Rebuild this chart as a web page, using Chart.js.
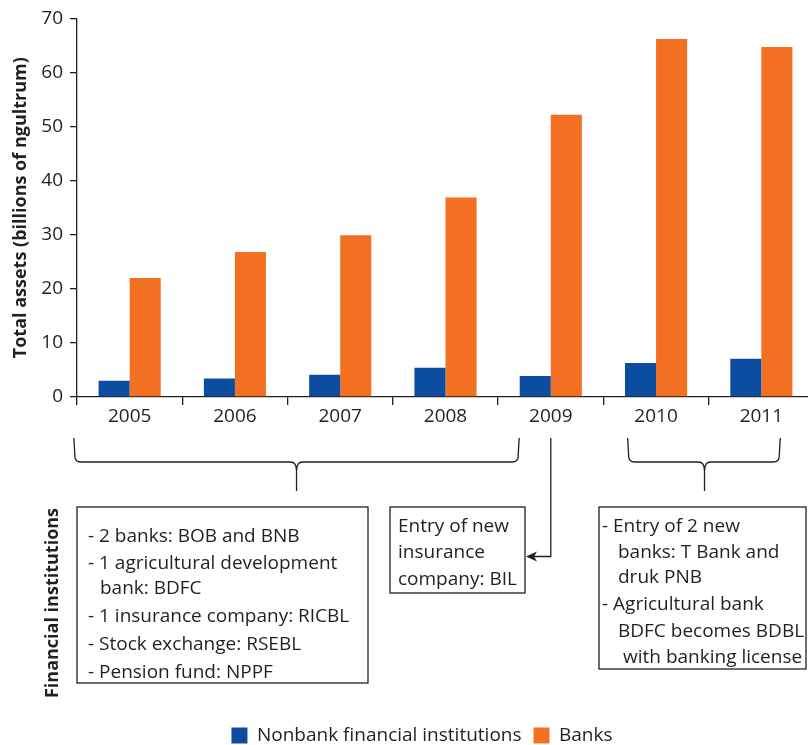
<!DOCTYPE html>
<html><head><meta charset="utf-8">
<script src="https://cdn.jsdelivr.net/npm/chart.js@4.4.1/dist/chart.umd.min.js"></script>
<style>
html,body{margin:0;padding:0;overflow:hidden;background:#fff;width:808px;height:745px}
#wrap{position:absolute;left:0;top:0;width:816px;height:755px}
</style>
</head><body>
<div id="wrap"><canvas id="c" width="816" height="755"></canvas></div>
<script>
const years = ['2005', '2006', '2007', '2008', '2009', '2010', '2011'];
const nonbankValues = [3.0, 3.4, 4.1, 5.4, 3.9, 6.3, 7.05];
const bankValues = [22.0, 26.8, 29.9, 36.9, 52.2, 66.2, 64.7];
const yTickValues = [0, 10, 20, 30, 40, 50, 60, 70];
const seriesNames = ['Nonbank financial institutions', 'Banks'];
const yTitle = 'Total assets (billions of ngultrum)';
const sideLabel = 'Financial institutions';
const noteLeft = ['- 2 banks: BOB and BNB', '- 1 agricultural development', 'bank: BDFC', '- 1 insurance company: RICBL', '- Stock exchange: RSEBL', '- Pension fund: NPPF'];
const noteMiddle = ['Entry of new', 'insurance', 'company: BIL'];
const noteRight = ['- Entry of 2 new', 'banks: T Bank and', 'druk PNB', '- Agricultural bank', 'BDFC becomes BDBL', 'with banking license'];

const FONT = "'Open Sans', 'Noto Sans', sans-serif";
const INK = '#231f20';

function brace(ctx, x1, x2, cx, yTop, yMid, yBot) {
  const r = 6;
  ctx.beginPath();
  ctx.moveTo(x1, yTop);
  ctx.quadraticCurveTo(x1 + 1, yMid - 8, x1 + 1, yMid - r);
  ctx.quadraticCurveTo(x1 + 1, yMid, x1 + r + 1, yMid);
  ctx.lineTo(cx - r, yMid);
  ctx.quadraticCurveTo(cx, yMid, cx, yMid + 9);
  ctx.lineTo(cx, yBot);
  ctx.moveTo(cx, yMid + 9);
  ctx.quadraticCurveTo(cx, yMid, cx + r, yMid);
  ctx.lineTo(x2 - r - 1, yMid);
  ctx.quadraticCurveTo(x2 - 1, yMid, x2 - 1, yMid - r);
  ctx.quadraticCurveTo(x2 - 1, yMid - 8, x2, yTop);
  ctx.stroke();
}

function box(ctx, l, t, r, b) {
  ctx.fillStyle = '#fff';
  ctx.fillRect(l, t, r - l, b - t);
  ctx.strokeRect(l, t, r - l, b - t);
}

const notesPlugin = {
  id: 'notes',
  afterDraw(chart) {
    const ctx = chart.ctx;
    const xs = chart.scales.x;
    ctx.save();
    ctx.strokeStyle = INK;
    ctx.lineWidth = 1.3;
    // braces
    brace(ctx, xs.getPixelForValue(-0.53), xs.getPixelForValue(3.7), xs.getPixelForValue(1.585), 438, 462, 491);
    brace(ctx, xs.getPixelForValue(4.73), xs.getPixelForValue(6.18), xs.getPixelForValue(5.46), 438, 462, 491);
    // arrow from 2009
    const ax = xs.getPixelForValue(4);
    ctx.beginPath();
    ctx.moveTo(ax, 438);
    ctx.lineTo(ax, 556.5);
    ctx.lineTo(533, 556.5);
    ctx.stroke();
    ctx.fillStyle = INK;
    ctx.beginPath();
    ctx.moveTo(526, 556.5);
    ctx.lineTo(537, 551.5);
    ctx.lineTo(534, 556.5);
    ctx.lineTo(537, 561.5);
    ctx.closePath();
    ctx.fill();
    // boxes
    box(ctx, 77, 507, 368, 683);
    box(ctx, 390, 507, 525, 593);
    box(ctx, 599, 507, 806, 669);
    ctx.fillStyle = INK;
    ctx.font = "19px " + FONT;
    ctx.textAlign = 'left';
    ctx.textBaseline = 'alphabetic';
    const leftX = [88, 88, 100, 88, 88, 88];
    const leftY = [542, 569, 594, 622, 650, 678];
    noteLeft.forEach((t, i) => ctx.fillText(t, leftX[i], leftY[i]));
    const midY = [532, 558, 585];
    noteMiddle.forEach((t, i) => ctx.fillText(t, 398, midY[i]));
    const rightX = [602, 618, 618, 602, 618, 623];
    const rightY = [532, 558, 583, 610, 637, 663];
    noteRight.forEach((t, i) => ctx.fillText(t, rightX[i], rightY[i]));
    // side label
    ctx.save();
    ctx.translate(58, 603);
    ctx.rotate(-Math.PI / 2);
    ctx.font = "bold 18px " + FONT;
    ctx.textAlign = 'center';
    ctx.fillText(sideLabel, 0, 0);
    ctx.restore();
    ctx.restore();
  }
};

new Chart(document.getElementById('c'), {
  type: 'bar',
  data: {
    labels: years,
    datasets: [
      { label: seriesNames[0], data: nonbankValues, backgroundColor: '#0c4da2' },
      { label: seriesNames[1], data: bankValues, backgroundColor: '#f36f21' }
    ]
  },
  options: {
    responsive: false,
    animation: false,
    devicePixelRatio: 1,
    layout: { padding: { left: 30, right: 2, top: 17, bottom: 0 } },
    datasets: { bar: { categoryPercentage: 0.59, barPercentage: 1.0 } },
    plugins: {
      legend: {
        position: 'bottom',
        labels: { boxWidth: 16, boxHeight: 16, padding: 12, color: INK, font: { family: FONT, size: 19 } }
      },
      tooltip: { enabled: false }
    },
    scales: {
      x: {
        grid: { offset: true, drawOnChartArea: false, tickLength: 8, color: INK, lineWidth: 1.3 },
        border: { color: INK, width: 1.3 },
        ticks: { padding: 0, color: INK, font: { family: FONT, size: 19 } },
        afterFit(s) { s.height = 317; }
      },
      y: {
        min: 0, max: 70,
        afterBuildTicks(s) { s.ticks = yTickValues.map(v => ({ value: v })); },
        grid: { drawOnChartArea: false, tickLength: 7, color: INK, lineWidth: 1.3 },
        border: { color: INK, width: 1.3 },
        ticks: { padding: 7, color: INK, font: { family: FONT, size: 19 } },
        title: { display: true, text: yTitle, color: INK, font: { family: FONT, size: 18, weight: 'bold' }, padding: { top: -20, bottom: 0 } },
        afterFit(s) { s.width = 47; }
      }
    }
  },
  plugins: [notesPlugin]
});
</script>
</body></html>
